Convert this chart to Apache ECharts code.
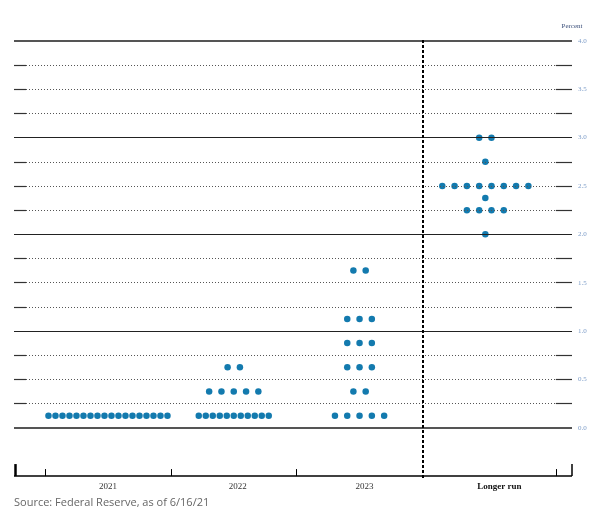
<!DOCTYPE html>
<html><head><meta charset="utf-8">
<script src="https://cdn.jsdelivr.net/npm/echarts@6/dist/echarts.min.js"></script>
<style>html,body{margin:0;padding:0;background:#fff}#c{width:605px;height:527px}</style>
</head><body><div id="c"></div>
<script>
// ---- data ----
const categories = ['2021', '2022', '2023', 'Longer run'];
const levels2021 = [0.125];
const counts2021 = [18];
const levels2022 = [0.125, 0.375, 0.625];
const counts2022 = [11, 5, 2];
const levels2023 = [0.125, 0.375, 0.625, 0.875, 1.125, 1.625];
const counts2023 = [5, 2, 3, 3, 3, 2];
const levelsLR = [2.0, 2.25, 2.375, 2.5, 2.75, 3.0];
const countsLR = [1, 4, 1, 8, 1, 2];
const yTickLabels = ['0.0', '0.5', '1.0', '1.5', '2.0', '2.5', '3.0', '3.5', '4.0'];
const gridLevels = [0, 0.25, 0.5, 0.75, 1, 1.25, 1.5, 1.75, 2, 2.25, 2.5, 2.75, 3, 3.25, 3.5, 3.75, 4];

// ---- layout / style ----
const X_MIN = -0.747, X_MAX = 3.689;
const Y_MIN = -0.52, Y_MAX = 4.01;
const PX_X = 125.8, PX_Y = 96.67;
const WIDE = 12.3 / PX_X, DENSE = 7 / PX_X;
const DOT = '#137aae';
const LEFT_SEG = 12 / PX_X;
const RIGHT_START = 3.56;
const AXIS_Y = -0.5;

const dots = [];
[[levels2021, counts2021], [levels2022, counts2022], [levels2023, counts2023], [levelsLR, countsLR]]
  .forEach(([lv, ct], ci) => {
    lv.forEach((l, i) => {
      const n = ct[i];
      const step = n > 9 ? DENSE : WIDE;
      for (let k = 0; k < n; k++) dots.push([ci + (k - (n - 1) / 2) * step, l]);
    });
  });

const lines = [];
gridLevels.forEach(v => {
  let st;
  if (v === 0 || v === 4) st = {color: '#555', width: 2, type: 'solid'};
  else if (Number.isInteger(v)) st = {color: '#222', width: 1, type: 'solid'};
  else st = {color: '#555', width: 1, type: [1, 2]};
  lines.push([{coord: [X_MIN, v], lineStyle: st}, {coord: [X_MAX, v]}]);
  if (!Number.isInteger(v)) {
    lines.push([{coord: [X_MIN, v], lineStyle: {color: '#333', width: 1.2, type: 'solid'}}, {coord: [X_MIN + LEFT_SEG, v]}]);
    lines.push([{coord: [RIGHT_START, v], lineStyle: {color: '#333', width: 1.2, type: 'solid'}}, {coord: [X_MAX, v]}]);
  }
});
// divider before longer run
lines.push([{coord: [2.5, Y_MAX], lineStyle: {color: '#000', width: 2, type: [3, 2]}}, {coord: [2.5, Y_MIN]}]);
// bottom axis line and its ticks
const endH = 12 / PX_Y, midH = 7 / PX_Y;
lines.push([{coord: [X_MIN, AXIS_Y], lineStyle: {color: '#000', width: 1.5, type: 'solid'}}, {coord: [X_MAX, AXIS_Y]}]);
lines.push([{coord: [X_MIN + 0.008, AXIS_Y], lineStyle: {color: '#000', width: 2.5, type: 'solid'}}, {coord: [X_MIN + 0.008, AXIS_Y + endH]}]);
lines.push([{coord: [X_MAX - 0.004, AXIS_Y], lineStyle: {color: '#000', width: 1.5, type: 'solid'}}, {coord: [X_MAX - 0.004, AXIS_Y + endH]}]);
[-0.5, 0.5, 1.5, RIGHT_START].forEach(x => {
  lines.push([{coord: [x, AXIS_Y], lineStyle: {color: '#000', width: 1, type: 'solid'}}, {coord: [x, AXIS_Y + midH]}]);
});

const chart = echarts.init(document.getElementById('c'), null, {renderer: 'canvas'});
chart.setOption({
  animation: false,
  backgroundColor: '#fff',
  grid: {left: 14, right: 33, top: 40, bottom: 49, containLabel: false},
  xAxis: {
    type: 'value', min: X_MIN, max: X_MAX,
    axisLine: {show: false},
    axisTick: {show: false},
    splitLine: {show: false},
    axisLabel: {
      show: true, margin: 4, customValues: [0, 1, 2, 3],
      fontFamily: 'Liberation Serif', fontSize: 9, color: '#333',
      formatter: v => {
        const i = Math.round(v);
        return ['{a|', '{b|', '{c|', '{d|'][i] + categories[i] + '}';
      },
      rich: {
        a: {fontFamily: 'Liberation Serif', fontSize: 9, color: '#333'},
        b: {fontFamily: 'Liberation Serif', fontSize: 9, color: '#333', padding: [0, 0, 0, 8]},
        c: {fontFamily: 'Liberation Serif', fontSize: 9, color: '#333', padding: [0, 0, 0, 10]},
        d: {fontFamily: 'Liberation Serif', fontSize: 9, color: '#111', fontWeight: 'bold', padding: [0, 0, 0, 28]}
      }
    }
  },
  yAxis: {
    type: 'value', position: 'right', min: Y_MIN, max: Y_MAX,
    name: 'Percent', nameLocation: 'end', nameGap: 10,
    nameTextStyle: {fontFamily: 'Liberation Serif', fontSize: 7, color: '#3b4f7a', align: 'center'},
    axisLine: {show: false, onZero: false}, axisTick: {show: false}, splitLine: {show: false},
    axisLabel: {
      show: true, margin: 6, customValues: yTickLabels.map(Number),
      formatter: v => yTickLabels[Math.round(v * 2)],
      fontFamily: 'Liberation Serif', fontSize: 7, color: '#7c9cc8'
    }
  },
  series: [
    {type: 'scatter', data: [], z: 1, silent: true,
     markLine: {silent: true, symbol: 'none', label: {show: false}, animation: false, data: lines}},
    {type: 'scatter', data: dots, z: 3, symbolSize: 6.5, itemStyle: {color: DOT, opacity: 1}}
  ],
  graphic: [{
    type: 'text', left: 14, top: 497,
    style: {text: 'Source: Federal Reserve, as of 6/16/21', fontFamily: 'Open Sans', fontSize: 11, fill: '#666'}
  }]
});
</script></body></html>
